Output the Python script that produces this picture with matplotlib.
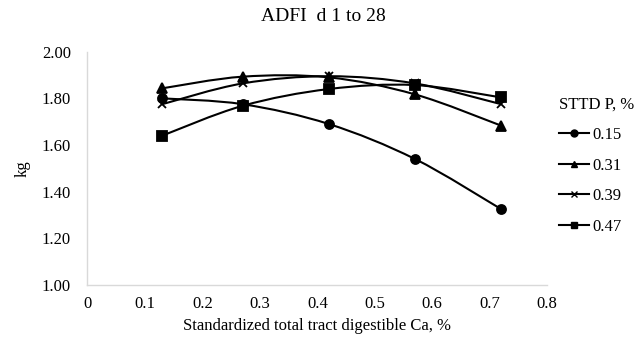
import numpy as np
import matplotlib
matplotlib.use("Agg")
import matplotlib.pyplot as plt
from matplotlib.path import Path
import matplotlib.patches as mpatches
from matplotlib.lines import Line2D

plt.rcParams['font.family'] = ['Liberation Serif', 'DejaVu Serif']

# data
ca_levels = [0.13, 0.27, 0.42, 0.57, 0.72]
p_labels = ["0.15", "0.31", "0.39", "0.47"]
adfi_015 = [1.80, 1.775, 1.69, 1.54, 1.325]
adfi_031 = [1.843, 1.893, 1.89, 1.817, 1.683]
adfi_039 = [1.775, 1.864, 1.895, 1.864, 1.775]
adfi_047 = [1.64, 1.768, 1.84, 1.857, 1.804]
series = [adfi_015, adfi_031, adfi_039, adfi_047]
markers = ["o", "^", "x", "s"]


def smooth_path(xs, ys):
    # Excel style smoothed line: cubic bezier through the points
    pts = np.column_stack([xs, ys])
    n = len(pts)
    verts = [pts[0]]
    codes = [Path.MOVETO]
    for i in range(n - 1):
        p0 = pts[i - 1] if i > 0 else pts[i]
        p1 = pts[i]
        p2 = pts[i + 1]
        p3 = pts[i + 2] if i + 2 < n else pts[i + 1]
        c1 = p1 + (p2 - p0) / 6.0
        c2 = p2 - (p3 - p1) / 6.0
        verts += [c1, c2, p2]
        codes += [Path.CURVE4] * 3
    return Path(verts, codes)


fig = plt.figure(figsize=(6.34, 3.38), dpi=100)
ax = fig.add_axes([0.138, 0.157, 0.725, 0.69])

handles = []
for ys, m, lab in zip(series, markers, p_labels):
    patch = mpatches.PathPatch(smooth_path(ca_levels, ys), facecolor='none',
                               edgecolor='black', linewidth=1.5, zorder=3)
    ax.add_patch(patch)
    ms = 6.5 if m != "x" else 6
    ax.plot(ca_levels, ys, linestyle='none', marker=m, color='black',
            markersize=ms, markeredgewidth=1.3, zorder=4)
    handles.append(Line2D([], [], color='black', linewidth=1.5, marker=m,
                          markersize=5, markeredgewidth=1.0, label=lab))

ax.set_xlim(0, 0.8)
ax.set_ylim(1.0, 2.0)
ax.set_xticks(np.arange(0, 0.81, 0.1))
ax.set_xticklabels(["0", "0.1", "0.2", "0.3", "0.4", "0.5", "0.6", "0.7", "0.8"])
ax.set_yticks(np.arange(1.0, 2.01, 0.2))
ax.set_yticklabels(["1.00", "1.20", "1.40", "1.60", "1.80", "2.00"])
ax.tick_params(axis='both', length=0, labelsize=12)
ax.tick_params(axis='y', pad=12)
ax.tick_params(axis='x', pad=8)
for s in ['top', 'right']:
    ax.spines[s].set_visible(False)
for s in ['left', 'bottom']:
    ax.spines[s].set_color('#d9d9d9')
    ax.spines[s].set_linewidth(1.0)

ax.set_xlabel("Standardized total tract digestible Ca, %", fontsize=12, labelpad=4)
ax.set_ylabel("kg", fontsize=12, labelpad=8)
fig.text(0.51, 0.95, "ADFI  d 1 to 28", ha='center', va='center', fontsize=14)

leg = fig.legend(handles=handles, title="STTD P, %", loc='upper left',
                 bbox_to_anchor=(0.868, 0.74), frameon=False, fontsize=12,
                 title_fontsize=12, handlelength=1.8, labelspacing=0.88,
                 handletextpad=0.2, borderpad=0)
leg._legend_box.align = "left"

fig.savefig("out.png", dpi=100)
